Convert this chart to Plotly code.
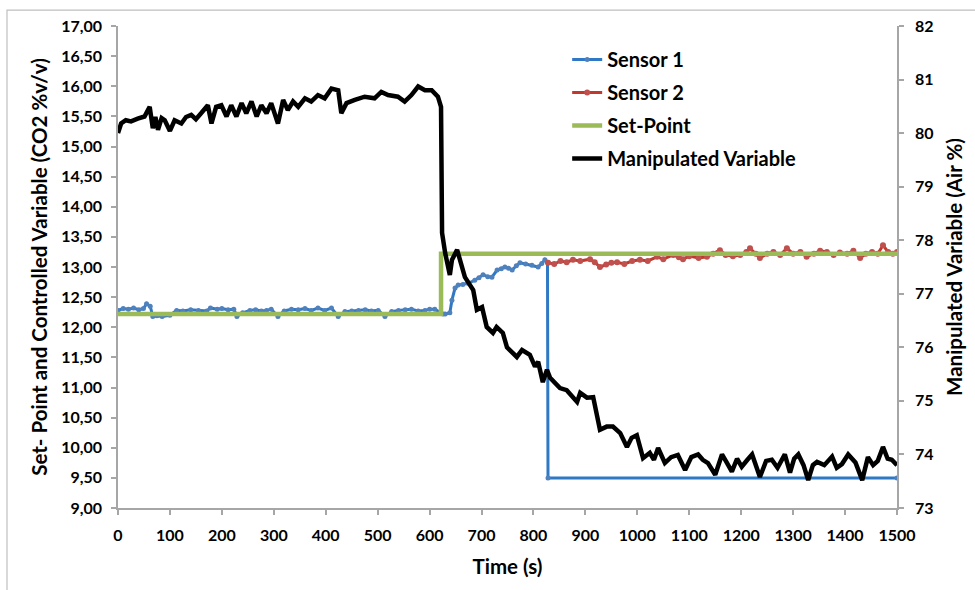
import plotly.graph_objects as go

# ---- Controlled variable, CO2 %v/v (left axis) ----
s1_time = [0, 10, 20, 30, 40, 49, 55, 62, 67, 75, 85, 100, 113, 125, 140, 155, 171, 178,
           191, 200, 212, 223, 229, 240, 254, 265, 276, 286, 295, 308, 320, 334, 347, 360,
           372, 385, 398, 411, 424, 437, 450, 463, 476, 488, 501, 514, 527, 540, 553, 565,
           578, 591, 600, 610, 620, 626, 630, 639, 643, 649, 655, 664, 674, 687, 695, 703,
           712, 720, 730, 738, 745, 752, 759, 767, 774, 785, 797, 809, 816, 822, 827, 828,
           1500]
s1_co2 = [12.28, 12.31, 12.30, 12.32, 12.29, 12.31, 12.39, 12.35, 12.18, 12.19, 12.18, 12.20,
          12.28, 12.27, 12.29, 12.28, 12.27, 12.32, 12.30, 12.31, 12.29, 12.30, 12.18, 12.24,
          12.28, 12.29, 12.27, 12.28, 12.30, 12.18, 12.27, 12.30, 12.29, 12.31, 12.28, 12.32,
          12.28, 12.32, 12.18, 12.26, 12.27, 12.28, 12.29, 12.27, 12.28, 12.18, 12.26, 12.28,
          12.29, 12.30, 12.27, 12.28, 12.30, 12.30, 12.25, 12.22, 12.22, 12.24, 12.45, 12.65,
          12.70, 12.71, 12.73, 12.78, 12.82, 12.87, 12.84, 12.83, 12.95, 12.97, 13.00, 12.98,
          12.95, 13.02, 13.07, 13.05, 13.03, 13.00, 13.06, 13.12, 13.08, 9.50, 9.50]

s2_time = [828, 840, 852, 864, 876, 890, 909, 918, 928, 940, 950, 961, 975, 990, 1005, 1020,
           1038, 1050, 1069, 1080, 1088, 1100, 1118, 1134, 1146, 1159, 1170, 1184, 1198, 1210,
           1217, 1228, 1236, 1250, 1262, 1275, 1288, 1300, 1314, 1326, 1340, 1352, 1365, 1378,
           1390, 1404, 1416, 1429, 1440, 1452, 1463, 1473, 1483, 1492, 1500]
s2_co2 = [13.07, 13.05, 13.10, 13.08, 13.12, 13.10, 13.13, 13.08, 13.00, 13.04, 13.07, 13.08,
          13.05, 13.10, 13.12, 13.10, 13.17, 13.13, 13.20, 13.16, 13.13, 13.18, 13.15, 13.17,
          13.22, 13.28, 13.20, 13.18, 13.20, 13.25, 13.31, 13.22, 13.15, 13.22, 13.25, 13.20,
          13.31, 13.22, 13.25, 13.17, 13.22, 13.27, 13.25, 13.20, 13.24, 13.22, 13.27, 13.15,
          13.22, 13.25, 13.22, 13.36, 13.25, 13.22, 13.25]

sp_time = [0, 622, 622, 1500]
sp_co2 = [12.22, 12.22, 13.22, 13.22]

# ---- Manipulated variable, air % (right axis) ----
mv_time = [0, 6, 15, 25, 38, 51, 61, 67, 72, 77, 84, 90, 100, 109, 122, 131, 141, 150, 160,
           173, 180, 189, 199, 209, 218, 228, 238, 247, 257, 267, 276, 286, 295, 308, 318, 327,
           337, 347, 360, 372, 385, 398, 411, 424, 430, 440, 456, 475, 494, 507, 520, 539, 552,
           565, 578, 591, 604, 616, 622, 624, 630, 639, 643, 653, 668, 684, 691, 701, 710, 722,
           729, 741, 749, 759, 768, 778, 793, 803, 809, 818, 826, 832, 851, 864, 884, 890, 903,
           915, 922, 928, 941, 953, 967, 980, 989, 999, 1011, 1024, 1032, 1040, 1053, 1065,
           1078, 1092, 1104, 1117, 1126, 1136, 1150, 1163, 1172, 1182, 1192, 1201, 1212, 1221,
           1236, 1248, 1259, 1270, 1284, 1294, 1302, 1310, 1320, 1329, 1338, 1346, 1360, 1375,
           1384, 1394, 1406, 1420, 1433, 1444, 1454, 1463, 1473, 1482, 1490, 1500]
mv_air = [80.00, 80.18, 80.24, 80.22, 80.27, 80.31, 80.49, 80.09, 80.30, 80.06, 80.28, 80.24,
          80.04, 80.24, 80.18, 80.30, 80.34, 80.26, 80.37, 80.52, 80.18, 80.49, 80.52, 80.31,
          80.52, 80.31, 80.56, 80.37, 80.59, 80.31, 80.52, 80.37, 80.56, 80.18, 80.62, 80.43,
          80.59, 80.49, 80.65, 80.59, 80.71, 80.65, 80.83, 80.80, 80.37, 80.56, 80.62, 80.68,
          80.65, 80.77, 80.71, 80.68, 80.59, 80.71, 80.87, 80.80, 80.80, 80.68, 80.49, 78.14,
          77.76, 77.35, 77.63, 77.82, 77.31, 77.07, 76.70, 76.75, 76.38, 76.27, 76.38, 76.27,
          76.00, 75.90, 75.82, 75.95, 75.86, 75.64, 75.73, 75.35, 75.58, 75.43, 75.24, 75.20,
          74.98, 75.15, 75.06, 75.07, 74.78, 74.46, 74.52, 74.52, 74.40, 74.14, 74.31, 74.36,
          73.93, 74.03, 73.90, 74.12, 73.84, 73.95, 73.99, 73.71, 73.95, 74.00, 73.90, 73.84,
          73.62, 74.00, 73.85, 73.68, 73.92, 73.77, 73.90, 74.00, 73.58, 73.88, 73.90, 73.75,
          74.00, 73.66, 73.92, 74.00, 73.80, 73.52, 73.80, 73.86, 73.80, 73.96, 73.75, 73.82,
          74.00, 73.85, 73.52, 73.95, 73.80, 73.88, 74.14, 73.92, 73.90, 73.80]

x_ticks = list(range(0, 1501, 100))

FONT = "Lato"
TXT = "#000000"
AXIS_GREY = "#a6a6a6"

fig = go.Figure()

fig.add_trace(go.Scatter(
    x=s1_time, y=s1_co2, name="Sensor 1", legendgroup="s1",
    mode="lines+markers",
    line=dict(color="#2f78c4", width=3),
    marker=dict(color="#4f81bd", size=5),
))
fig.add_trace(go.Scatter(
    x=s2_time, y=s2_co2, name="Sensor 2", legendgroup="s2",
    mode="lines+markers",
    line=dict(color="#c0392b", width=3),
    marker=dict(color="#c0504d", size=6),
))
fig.add_trace(go.Scatter(
    x=sp_time, y=sp_co2, name="Set-Point", legendgroup="sp",
    mode="lines",
    line=dict(color="#9bbb59", width=4.5),
))
fig.add_trace(go.Scatter(
    x=mv_time, y=mv_air, name="Manipulated Variable", legendgroup="mv",
    mode="lines", yaxis="y2",
    line=dict(color="#000000", width=4.5),
))

# light frame around the chart area
fig.add_shape(type="rect", xref="paper", yref="paper",
              x0=-0.1425, x1=1.2, y0=-0.3, y1=1.033,
              line=dict(color="#bfbfbf", width=1.2), fillcolor="rgba(0,0,0,0)", layer="below")

axis_common = dict(
    showline=True, linecolor=AXIS_GREY, linewidth=1.5,
    ticks="outside", ticklen=5, tickcolor=AXIS_GREY, tickwidth=1.5,
    showgrid=False, zeroline=False,
    tickfont=dict(family=FONT, size=16, color=TXT, weight="bold"),
)
title_font = dict(family=FONT, size=20.5, color=TXT, weight="bold")

fig.update_layout(
    width=975, height=590,
    margin=dict(l=118, r=78, t=26, b=82),
    paper_bgcolor="white", plot_bgcolor="white",
    separators=",.",
    showlegend=True,
    legend=dict(
        x=0.5766, y=0.971, xanchor="left", yanchor="top",
        bgcolor="rgba(0,0,0,0)", borderwidth=0,
        font=dict(family=FONT, size=20, color=TXT, weight="bold"),
        tracegroupgap=4, itemwidth=30,
    ),
    xaxis=dict(
        range=[0, 1500], tickvals=x_ticks, ticklabelstandoff=7,
        title=dict(text="Time (s)", standoff=17, font=title_font),
        **axis_common,
    ),
    yaxis=dict(
        range=[9, 17], dtick=0.5, tick0=9, tickformat=".2f", ticklabelstandoff=6,
        title=dict(text="Set- Point and Controlled Variable (CO2 %v/v)", standoff=8,
                   font=title_font),
        **axis_common,
    ),
    yaxis2=dict(
        range=[73, 82], dtick=1, tick0=73, overlaying="y", side="right",
        ticklabelstandoff=8,
        title=dict(text="Manipulated Variable (Air %)", standoff=15, font=title_font),
        **axis_common,
    ),
)

fig.write_html("out.html")
